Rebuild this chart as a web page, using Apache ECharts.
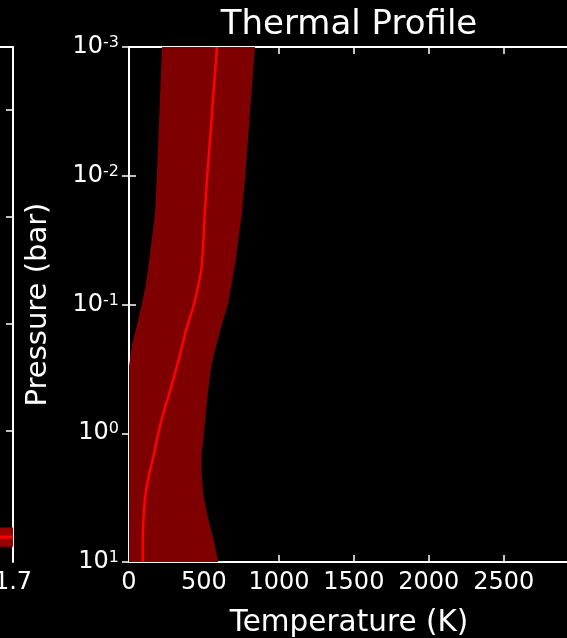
<!DOCTYPE html>
<html><head><meta charset="utf-8">
<script src="https://cdn.jsdelivr.net/npm/echarts@6/dist/echarts.min.js"></script>
<style>html,body{margin:0;padding:0;background:#000}#c{width:567px;height:638px}</style>
</head><body><div id="c"></div>
<script>
// ---- data ----
const pressure   = [0.001,0.002,0.005,0.01,0.02,0.05,0.07,0.1,0.15,0.2,0.3,0.5,0.7,1,1.5,2,3,5,7,10];
const tempMedian = [587,567,542,522,505,485,463,433,386,359,320,267,229,195,164,138,110,95,92,92];
const tempLow    = [220,210,196,186,173,130,112,85,50,22,0,0,0,0,0,0,0,0,0,0];
const tempHigh   = [840,820,795,775,752,705,683,660,613,585,548,525,512,500,484,484,495,535,568,595];
const tempTicks  = [0,500,1000,1500,2000,2500];
const tempRange  = [0,2935];
const pressureRange = [0.001,10];
// left (cropped) panel
const leftX      = [1.0,1.7];
const leftXTicks = [1.7];
const leftYRange = [-0.234,4.59];
const leftYTicks = [0,1,2,3,4];
const leftLine   = [0,0];
const leftBand   = [-0.09,0.09];

const FONT = 'DejaVu Sans';
const W = '#ffffff';
const axisLine = {show:true, lineStyle:{color:W, width:2}};
const tickIn = {show:true, inside:true, length:7, lineStyle:{color:W, width:1.5}};

const chart = echarts.init(document.getElementById('c'), null, {renderer:'canvas'});
chart.setOption({
  backgroundColor:'#000',
  animation:false,
  title:{
    text:'Thermal Profile', left:349, top:8, textAlign:'center', padding:0,
    textStyle:{color:W, fontFamily:FONT, fontWeight:'normal', fontSize:34}
  },
  grid:[
    {left:-300, width:313, top:47, bottom:76, show:false, outerBoundsMode:'none', containLabel:false},
    {left:129, width:440, top:47, bottom:76, show:false, outerBoundsMode:'none', containLabel:false}
  ],
  xAxis:[
    {gridIndex:0, type:'value', min:leftX[0], max:leftX[1], axisLine:axisLine,
     axisTick:{show:false}, splitLine:{show:false},
     axisLabel:{customValues:leftXTicks, formatter:v=>v.toFixed(1), color:W, fontFamily:FONT, fontSize:24, margin:9}},
    {gridIndex:0, type:'value', position:'top', min:leftX[0], max:leftX[1], axisLine:axisLine,
     axisTick:{show:false}, axisLabel:{show:false}, splitLine:{show:false}},
    {gridIndex:1, type:'value', min:tempRange[0], max:tempRange[1], axisLine:axisLine,
     axisTick:Object.assign({customValues:tempTicks}, tickIn), splitLine:{show:false},
     axisLabel:{customValues:tempTicks, formatter:v=>String(v), color:W, fontFamily:FONT, fontSize:24, margin:9},
     name:'Temperature (K)', nameLocation:'middle', nameGap:46,
     nameTextStyle:{color:W, fontFamily:FONT, fontSize:29.5}},
    {gridIndex:1, type:'value', position:'top', min:tempRange[0], max:tempRange[1], axisLine:axisLine,
     axisTick:Object.assign({customValues:tempTicks}, tickIn), axisLabel:{show:false}, splitLine:{show:false}}
  ],
  yAxis:[
    {gridIndex:0, type:'value', position:'right', min:leftYRange[0], max:leftYRange[1], axisLine:axisLine,
     axisTick:Object.assign({customValues:leftYTicks}, tickIn), axisLabel:{show:false}, splitLine:{show:false}},
    {gridIndex:1, type:'log', logBase:10, inverse:true, min:pressureRange[0], max:pressureRange[1],
     axisLine:axisLine, axisTick:tickIn, splitLine:{show:false},
     axisLabel:{
       margin:10, color:W,
       formatter:v=>'{b|10}{s|' + Math.round(Math.log10(v)) + '}',
       rich:{b:{fontSize:24, fontFamily:FONT, color:W}, s:{fontSize:16, fontFamily:FONT, color:W, verticalAlign:'top'}}
     },
     name:'Pressure (bar)', nameLocation:'middle', nameGap:76,
     nameTextStyle:{color:W, fontFamily:FONT, fontSize:29}},
    {gridIndex:1, type:'log', logBase:10, inverse:true, position:'right', min:pressureRange[0], max:pressureRange[1],
     axisLine:axisLine, axisTick:tickIn, axisLabel:{show:false}, splitLine:{show:false}}
  ],
  series:[
    {type:'line', xAxisIndex:0, yAxisIndex:0, data:leftX.map((x,i)=>[x,leftLine[i]]),
     showSymbol:false, lineStyle:{color:'#ff0000', width:3}, z:3,
     markArea:{silent:true, itemStyle:{color:'#990000'}, data:[[{yAxis:leftBand[0]},{yAxis:leftBand[1]}]]}},
    {type:'custom', xAxisIndex:2, yAxisIndex:1, silent:true, z:1,
     data:[[tempMedian[0], pressure[0]]],
     renderItem:(params, api)=>{
       const pts=[];
       for(let i=0;i<pressure.length;i++) pts.push(api.coord([tempLow[i], pressure[i]]));
       for(let i=pressure.length-1;i>=0;i--) pts.push(api.coord([tempHigh[i], pressure[i]]));
       return {type:'polygon', shape:{points:pts}, style:{fill:'#7f0000'}};
     }},
    {type:'line', xAxisIndex:2, yAxisIndex:1, data:pressure.map((p,i)=>[tempMedian[i], p]),
     showSymbol:false, smooth:true, lineStyle:{color:'#ff0000', width:2.5}, z:3}
  ]
});
</script></body></html>
